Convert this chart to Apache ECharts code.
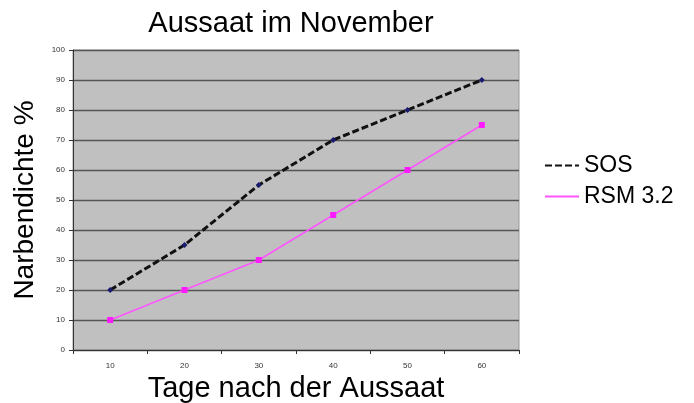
<!DOCTYPE html>
<html>
<head>
<meta charset="utf-8">
<script src="https://cdn.jsdelivr.net/npm/echarts@6/dist/echarts.min.js"></script>
<style>
  html, body { margin: 0; padding: 0; background: #fff; }
  #chart { width: 694px; height: 403px; }
</style>
</head>
<body>
<div id="chart"></div>
<script>
// Werte
const tage = ['10', '20', '30', '40', '50', '60'];
const sosWerte = [20, 35, 55, 70, 80, 90];
const rsmWerte = [10, 20, 30, 45, 60, 75];

const chart = echarts.init(document.getElementById('chart'));

chart.setOption({
  animation: false,
  textStyle: { fontFamily: 'Liberation Sans, Arial, sans-serif' },
  title: {
    text: 'Aussaat im November',
    left: 286,
    textAlign: 'center',
    top: 4,
    textStyle: { fontSize: 29, fontWeight: 'normal', color: '#000' }
  },
  legend: {
    orient: 'vertical',
    left: 539,
    top: 149,
    itemWidth: 34,
    itemHeight: 14,
    itemGap: 8,
    itemStyle: { opacity: 0 },
    textStyle: { fontSize: 23, color: '#000' },
    data: ['SOS', 'RSM 3.2']
  },
  grid: {
    left: 73,
    top: 50,
    right: 175,
    bottom: 53,
    outerBoundsMode: 'none',
    containLabel: false,
    show: true,
    backgroundColor: '#c0c0c0',
    borderColor: '#9a9a9a',
    borderWidth: 1
  },
  xAxis: {
    type: 'category',
    data: tage,
    boundaryGap: true,
    name: 'Tage nach der Aussaat',
    nameLocation: 'middle',
    nameGap: 24,
    nameTextStyle: { fontSize: 29, color: '#000' },
    axisLine: { lineStyle: { color: '#333', width: 1 } },
    axisTick: { show: true, inside: false, length: 4, lineStyle: { color: '#333' } },
    axisLabel: { fontSize: 8, color: '#333', margin: 12 },
    splitLine: { show: false }
  },
  yAxis: {
    type: 'value',
    min: 0,
    max: 100,
    interval: 10,
    name: 'Narbendichte %',
    nameLocation: 'middle',
    nameGap: 34,
    nameTextStyle: { fontSize: 28, color: '#000' },
    axisLine: { show: true, lineStyle: { color: '#333', width: 1 } },
    axisTick: { show: true, inside: false, length: 4, lineStyle: { color: '#333' } },
    axisLabel: { fontSize: 8, color: '#333', margin: 8 },
    splitLine: { show: true, lineStyle: { color: '#555', width: 1.3 } }
  },
  series: [
    {
      name: 'SOS',
      type: 'line',
      data: sosWerte,
      symbol: 'diamond',
      symbolSize: 6,
      itemStyle: { color: '#1a1a6e' },
      lineStyle: { color: '#111', width: 3, type: [7, 3] },
      z: 3
    },
    {
      name: 'RSM 3.2',
      type: 'line',
      data: rsmWerte,
      symbol: 'rect',
      symbolSize: 6,
      itemStyle: { color: '#ff1aff' },
      lineStyle: { color: '#ff55ff', width: 1.5 },
      z: 2
    }
  ]
});
</script>
</body>
</html>
